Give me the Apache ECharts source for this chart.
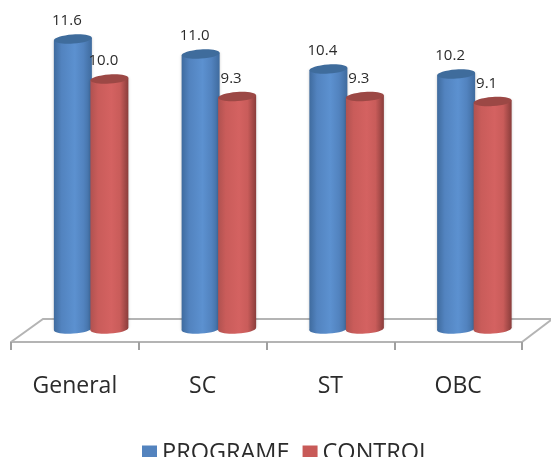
<!DOCTYPE html>
<html>
<head>
<meta charset="utf-8">
<style>html,body{margin:0;padding:0;background:#fff;overflow:hidden}#c{width:551px;height:457px}</style>
<script src="https://cdn.jsdelivr.net/npm/echarts@6/dist/echarts.min.js"></script>
</head>
<body>
<div id="c"></div>
<script>
const categories = ['General', 'SC', 'ST', 'OBC'];
const programe = [11.6, 11.0, 10.4, 10.2];
const control = [10.0, 9.3, 9.3, 9.1];

const FONT = '"Open Sans", sans-serif';
const chart = echarts.init(document.getElementById('c'), null, { renderer: 'canvas' });

// Draws one cylinder per category: a shaded body, a base ellipse and a darker top cap,
// both ellipses tilted slightly to suggest the perspective of the floor.
function cylinder(offset, cap, shades, labelDx) {
  return function (params, api) {
    const base = api.coord([api.value(0), 0]);
    const top = api.coord([api.value(0), api.value(1)]);
    const cx = base[0] + offset;
    const rx = 19, ry = 4.6, tilt = 0.07;
    const rise = rx * Math.sin(tilt);
    const fill = new echarts.graphic.LinearGradient(0, 0, 1, 0, [
      { offset: 0, color: shades[0] },
      { offset: 0.2, color: shades[1] },
      { offset: 0.55, color: shades[2] },
      { offset: 0.78, color: shades[1] },
      { offset: 1, color: shades[3] }
    ]);
    return {
      type: 'group',
      children: [
        {
          type: 'polygon',
          shape: { points: [[cx - rx, top[1] + rise], [cx + rx, top[1] - rise], [cx + rx, base[1] - rise], [cx - rx, base[1] + rise]] },
          style: { fill: fill, shadowBlur: 3, shadowColor: 'rgba(0,0,0,0.22)' }
        },
        { type: 'ellipse', shape: { cx: cx, cy: base[1], rx: rx, ry: ry }, rotation: tilt, originX: cx, originY: base[1], style: { fill: fill } },
        { type: 'ellipse', shape: { cx: cx, cy: top[1], rx: rx, ry: ry }, rotation: tilt, originX: cx, originY: top[1], style: { fill: cap } },
        {
          type: 'text',
          style: {
            x: cx + labelDx, y: top[1] - 18,
            text: api.value(1).toFixed(1),
            font: '15px ' + FONT, fill: '#2b2b2b',
            textAlign: 'center', textVerticalAlign: 'middle'
          }
        }
      ]
    };
  };
}

// Floor of the plot: back edge and the two receding side edges.
const floorLine = { stroke: '#b4b4b4', lineWidth: 2 };

chart.setOption({
  animation: false,
  backgroundColor: '#ffffff',
  grid: { left: 11, right: 29, top: 29, height: 313 },
  legend: {
    left: 137, top: 436, itemGap: 13, itemWidth: 15, itemHeight: 15,
    icon: 'rect',
    textStyle: { fontFamily: FONT, fontSize: 23.5, color: '#2b2b2b' },
    data: ['PROGRAME', 'CONTROL']
  },
  graphic: [
    { type: 'polyline', z: 0, shape: { points: [[11, 342], [43, 319], [551, 319]] }, style: Object.assign({ fill: null }, floorLine) },
    { type: 'line', z: 0, shape: { x1: 522, y1: 342, x2: 551, y2: 320 }, style: floorLine }
  ],
  xAxis: {
    type: 'category',
    data: categories,
    axisLine: { onZero: false, lineStyle: { color: '#b4b4b4', width: 2 } },
    axisTick: { show: true, length: 8, lineStyle: { color: '#a0a0a0', width: 2 } },
    axisLabel: { margin: 33, fontFamily: FONT, fontSize: 23, color: '#2b2b2b' }
  },
  yAxis: { type: 'value', min: -0.52, max: 12, show: false },
  series: [
    {
      name: 'PROGRAME', type: 'custom', z: 2, data: programe,
      encode: { x: 0, y: 1 },
      itemStyle: { color: '#5383be' },
      renderItem: cylinder(-2, '#3f6c9c', ['#3f6b9e', '#5283bf', '#5c91d0', '#3f6b9e'], -6)
    },
    {
      name: 'CONTROL', type: 'custom', z: 3, data: control,
      encode: { x: 0, y: 1 },
      itemStyle: { color: '#c85a58' },
      renderItem: cylinder(34.5, '#9c4845', ['#b05250', '#c95c5a', '#d46261', '#8a3d3b'], -6)
    }
  ]
});
</script>
</body>
</html>
